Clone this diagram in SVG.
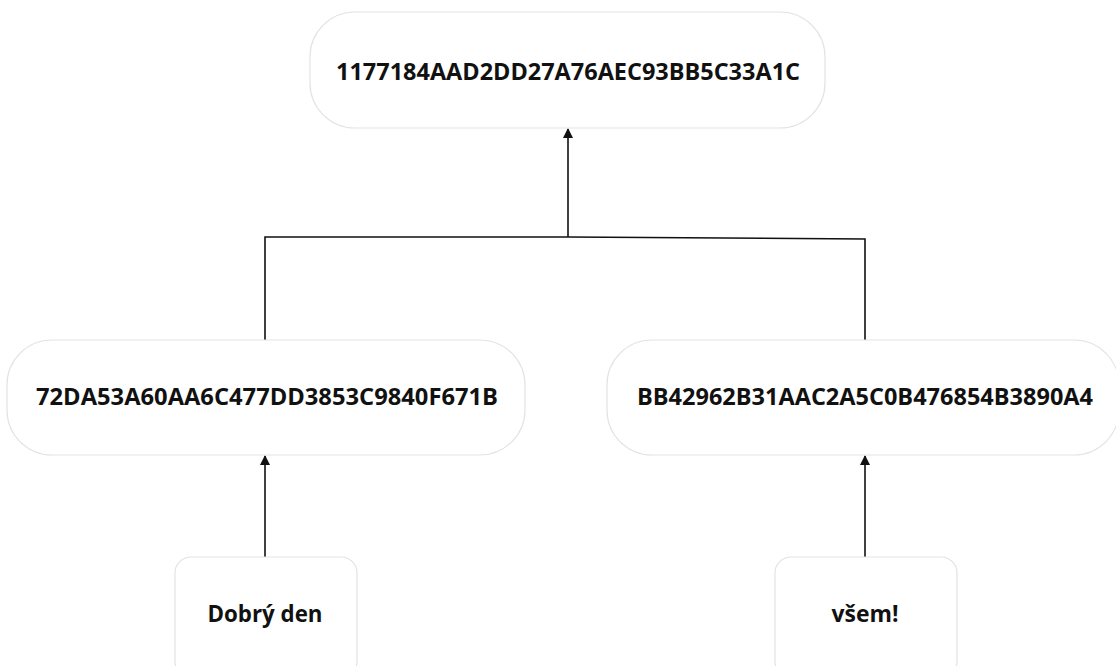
<svg xmlns="http://www.w3.org/2000/svg" width="1116" height="666" viewBox="0 0 1116 666">
<defs>
<style>
.node{fill:#ffffff;stroke:#e3e3e3;stroke-width:1.2}
.lbl{font-family:"Open Sans","Liberation Sans",sans-serif;font-weight:bold;font-size:23px;fill:#111;text-anchor:middle}
.edge{fill:none;stroke:#111;stroke-width:1.6}
</style>
<marker id="arr" viewBox="0 0 10 10" refX="9" refY="5" markerWidth="10" markerHeight="10" markerUnits="userSpaceOnUse" orient="auto">
<path d="M0,0 L10,5 L0,10 Z" fill="#111"/>
</marker>
</defs>
<rect width="1116" height="666" fill="#ffffff"/>
<g id="connectors">
<path class="edge" d="M265,340 V237 H568 L865,239 V340"/>
<path class="edge" d="M568,237 V129" marker-end="url(#arr)"/>
<path class="edge" d="M265,557 V456" marker-end="url(#arr)"/>
<path class="edge" d="M865,557 V456" marker-end="url(#arr)"/>
</g>
<g id="n-root">
<rect class="node" x="310" y="12" width="515" height="116" rx="45"/>
<text class="lbl" x="568" y="80" textLength="464" lengthAdjust="spacingAndGlyphs">1177184AAD2DD27A76AEC93BB5C33A1C</text>
</g>
<g id="n-left">
<rect class="node" x="7" y="340" width="518" height="115" rx="45"/>
<text class="lbl" x="267" y="405" textLength="462" lengthAdjust="spacingAndGlyphs">72DA53A60AA6C477DD3853C9840F671B</text>
</g>
<g id="n-right">
<rect class="node" x="607" y="340" width="512" height="115" rx="45"/>
<text class="lbl" x="865" y="405" textLength="456" lengthAdjust="spacingAndGlyphs">BB42962B31AAC2A5C0B476854B3890A4</text>
</g>
<g id="n-leaf1">
<rect class="node" x="175" y="557" width="182" height="120" rx="16"/>
<text class="lbl" x="265" y="622" textLength="115" lengthAdjust="spacingAndGlyphs">Dobrý den</text>
</g>
<g id="n-leaf2">
<rect class="node" x="775" y="557" width="182" height="120" rx="16"/>
<text class="lbl" x="865" y="622" textLength="67" lengthAdjust="spacingAndGlyphs">všem!</text>
</g>
</svg>
